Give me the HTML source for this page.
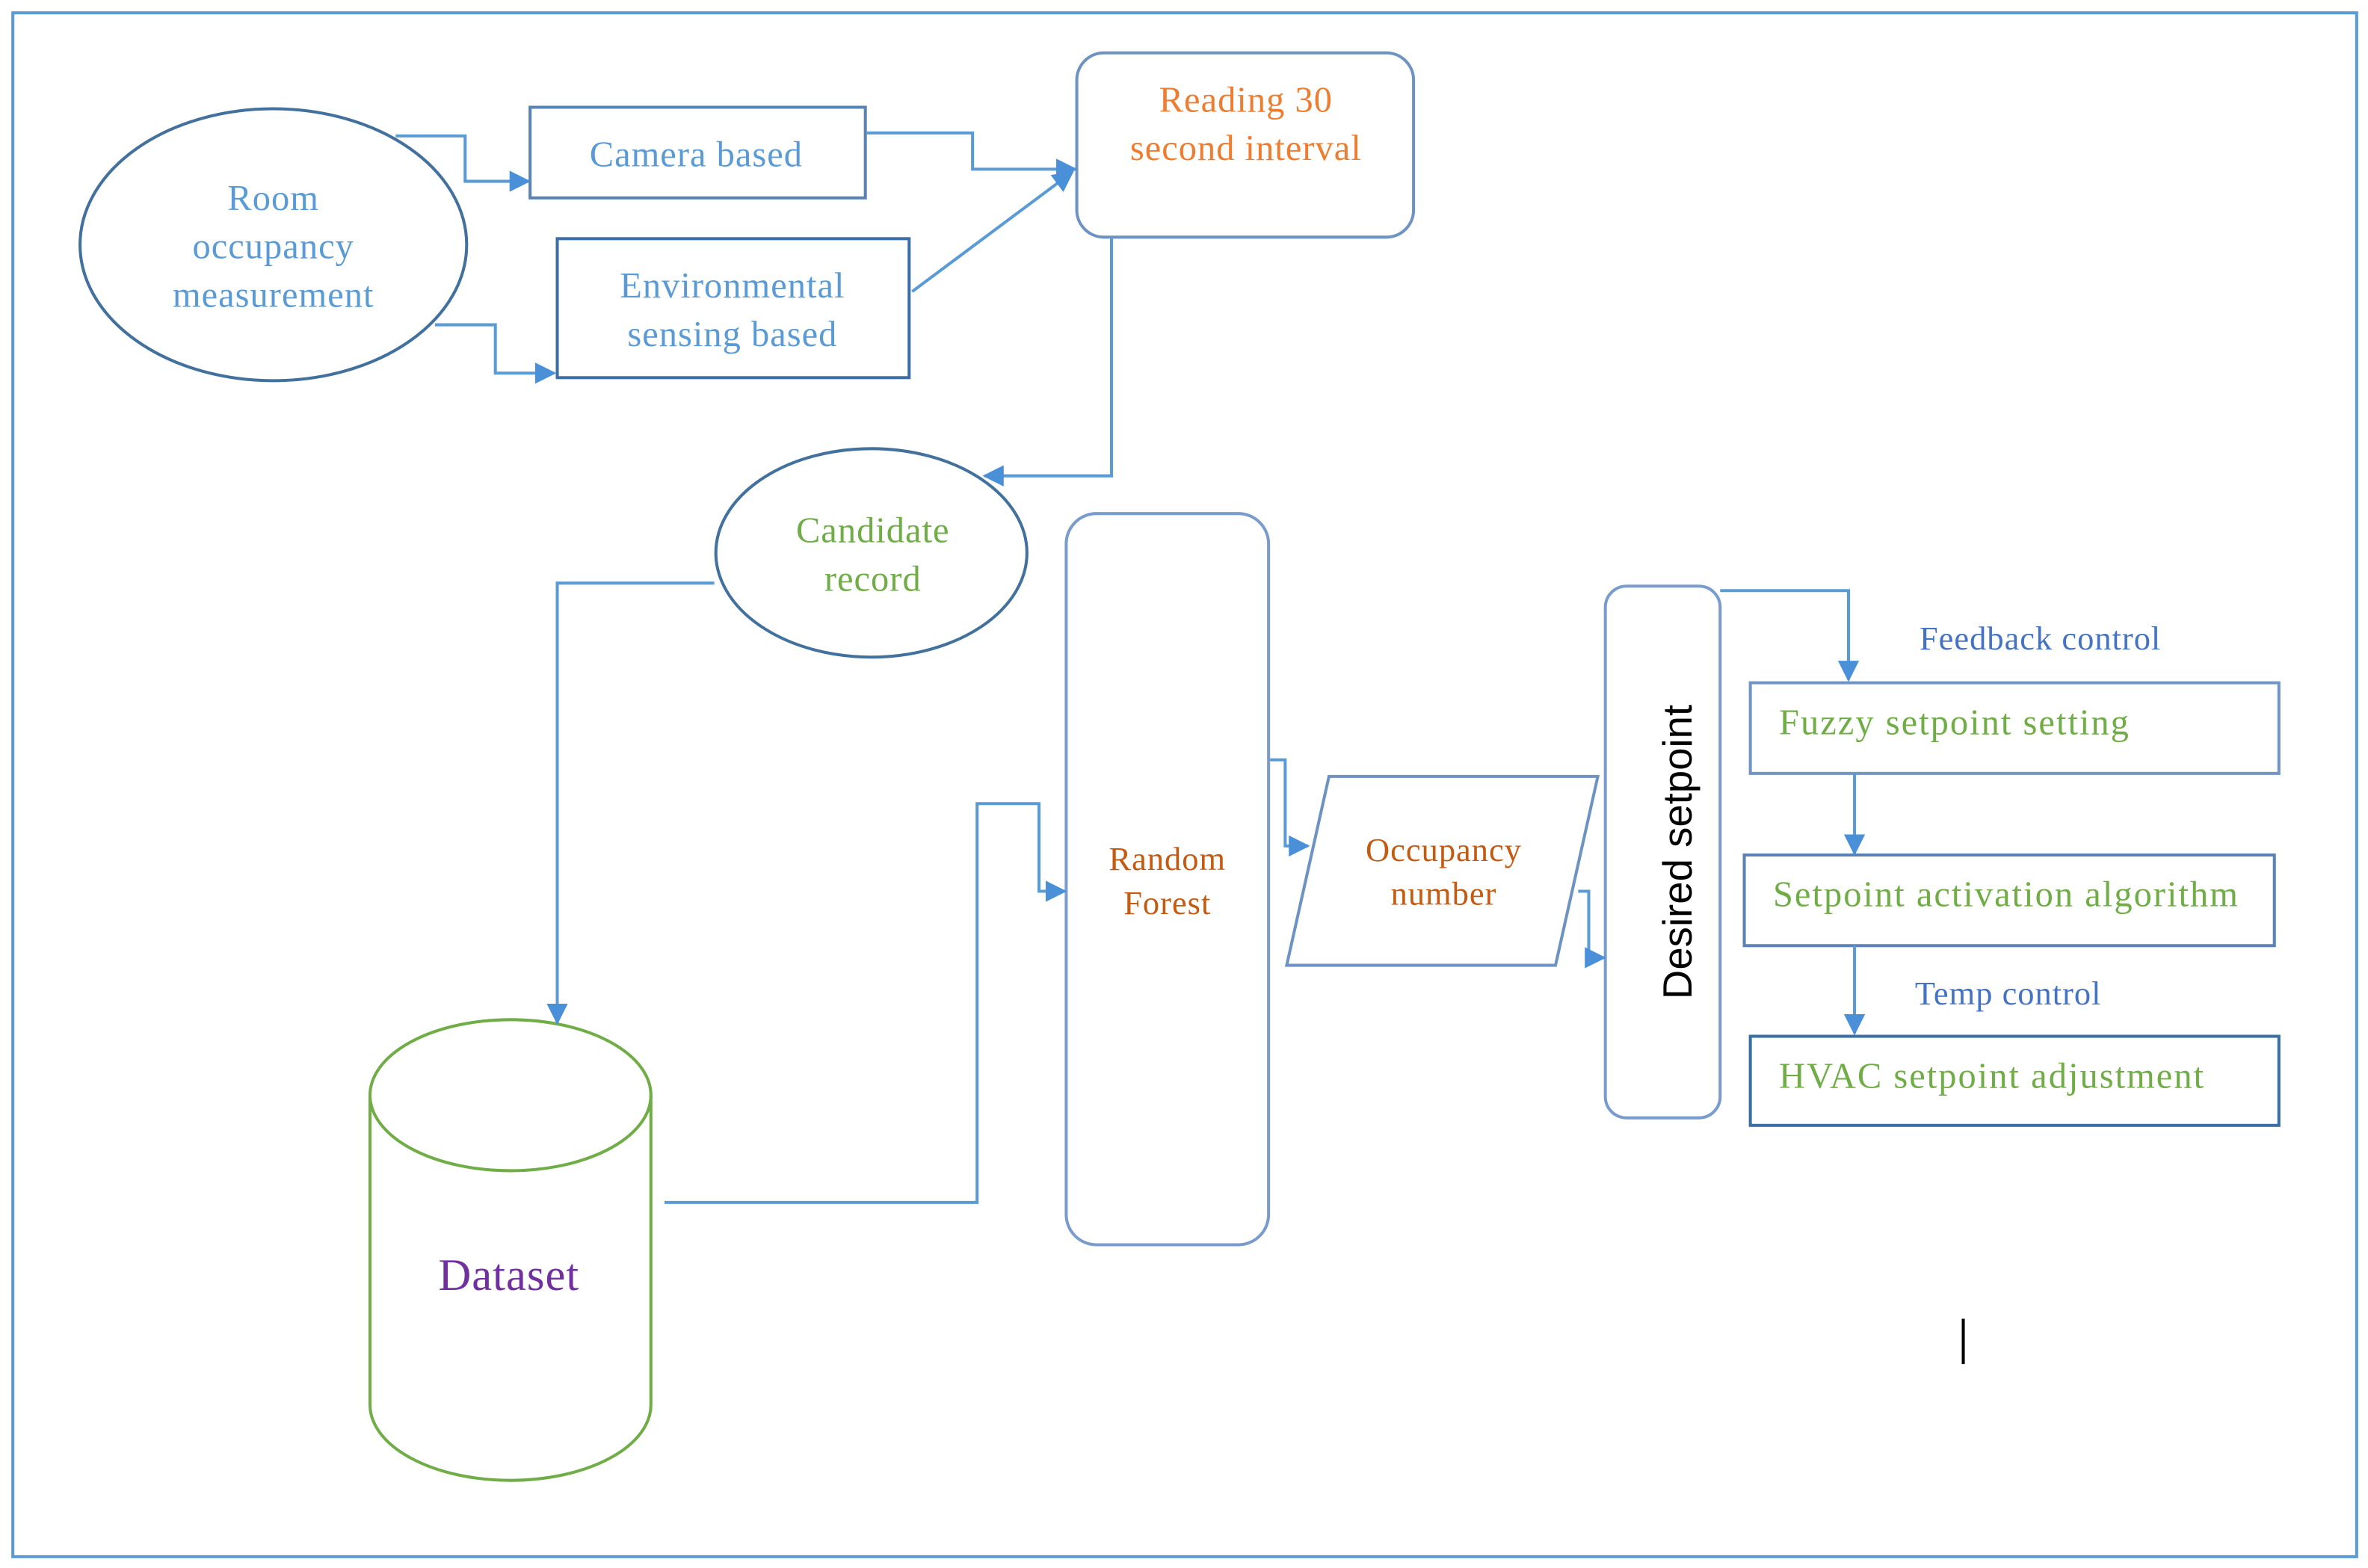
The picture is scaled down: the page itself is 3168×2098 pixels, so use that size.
<!DOCTYPE html>
<html><head><meta charset="utf-8"><style>
html,body{margin:0;padding:0;background:#fff;}
svg{display:block;}
text{font-family:"Liberation Serif",serif;}
</style></head><body>
<svg width="3168" height="2098" viewBox="0 0 1568 1038" preserveAspectRatio="none" xmlns="http://www.w3.org/2000/svg">
<defs>
<marker id="a" viewBox="0 0 10 10" refX="9" refY="5" markerWidth="7" markerHeight="7" orient="auto"><path d="M0,0 L10,5 L0,10 z" fill="#4a90d9"/></marker>
</defs>
<rect x="0" y="0" width="1568" height="1038" fill="#fff"/>
<rect x="8.5" y="8.5" width="1552" height="1022" fill="none" stroke="#5b9bd5" stroke-width="2"/>
<g fill="none" stroke-width="2">
<ellipse cx="181" cy="162" rx="128" ry="90" stroke="#41719c"/>
<rect x="351" y="71" width="222" height="60" stroke="#5a82b4"/>
<rect x="369" y="158" width="233" height="92" stroke="#3b6ea5"/>
<rect x="713" y="35" width="223" height="122" rx="18" stroke="#6d93c2"/>
<ellipse cx="577" cy="366" rx="103" ry="69" stroke="#41719c"/>
<rect x="706" y="340" width="134" height="484" rx="20" stroke="#7a9ccc"/>
<polygon points="880,514 1058,514 1030,639 852,639" stroke="#6d93c2"/>
<rect x="1063" y="388" width="76" height="352" rx="14" stroke="#7a9ccc"/>
<rect x="1159" y="452" width="350" height="60" stroke="#7195c4"/>
<rect x="1155" y="566" width="351" height="60" stroke="#5a82b4"/>
<rect x="1159" y="686" width="350" height="59" stroke="#3b6ea5"/>
<path d="M245,725 L245,930 A93,50 0 0 0 431,930 L431,725" stroke="#70ad47"/>
<ellipse cx="338" cy="725" rx="93" ry="50" stroke="#70ad47"/>
</g>
<g fill="none" stroke="#5b9bd5" stroke-width="2">
<path d="M262,90 L308,90 L308,120 L350,120" marker-end="url(#a)"/>
<path d="M288,215 L328,215 L328,247 L367,247" marker-end="url(#a)"/>
<path d="M574,88 L644,88 L644,112 L712,112" marker-end="url(#a)"/>
<path d="M604,193 L710,114" marker-end="url(#a)"/>
<path d="M736,158 L736,315 L652,315" marker-end="url(#a)"/>
<path d="M473,386 L369,386 L369,677" marker-end="url(#a)"/>
<path d="M440,796 L647,796 L647,532 L688,532 L688,590 L705,590" marker-end="url(#a)"/>
<path d="M841,503 L851,503 L851,560 L866,560" marker-end="url(#a)"/>
<path d="M1045,590 L1052,590 L1052,634 L1062,634" marker-end="url(#a)"/>
<path d="M1139,391 L1224,391 L1224,450" marker-end="url(#a)"/>
<path d="M1228,512 L1228,565" marker-end="url(#a)"/>
<path d="M1228,626 L1228,684" marker-end="url(#a)"/>
</g>
<line x1="1300" y1="873" x2="1300" y2="903" stroke="#000" stroke-width="2"/>
<g font-size="24" text-anchor="middle" letter-spacing="0.5">
<g fill="#5b9bd5"><text x="181" y="139">Room</text><text x="181" y="171">occupancy</text><text x="181" y="203">measurement</text>
<text x="461" y="110">Camera based</text><text x="485" y="197">Environmental</text><text x="485" y="229">sensing based</text></g>
<g fill="#ed7d31"><text x="825" y="74">Reading 30</text><text x="825" y="106">second interval</text></g>
<g fill="#70ad47"><text x="578" y="359">Candidate</text><text x="578" y="391">record</text></g>
<g fill="#c55a11" font-size="22"><text x="773" y="576">Random</text><text x="773" y="605">Forest</text>
<text x="956" y="570">Occupancy</text><text x="956" y="599">number</text></g>
<text x="337" y="854" fill="#7030a0" font-size="30">Dataset</text>
</g>
<text x="1113" y="564" transform="rotate(-90 1113 564)" text-anchor="middle" font-size="27" fill="#000" style="font-family:'Liberation Sans',sans-serif" dominant-baseline="middle">Desired setpoint</text>
<g font-size="24" fill="#70ad47" letter-spacing="1">
<text x="1178" y="486">Fuzzy setpoint setting</text>
<text x="1174" y="600">Setpoint activation algorithm</text>
<text x="1178" y="720">HVAC setpoint adjustment</text>
</g>
<g font-size="22" fill="#4472c4" letter-spacing="0.5">
<text x="1271" y="430">Feedback control</text>
<text x="1268" y="665">Temp control</text>
</g>
</svg>
</body></html>
